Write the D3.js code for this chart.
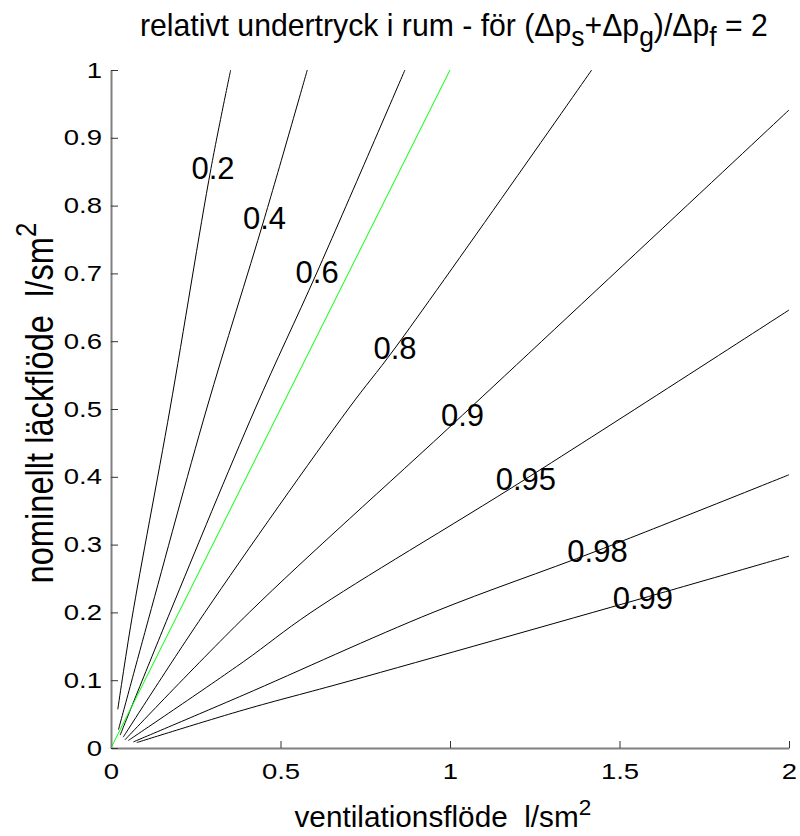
<!DOCTYPE html>
<html>
<head>
<meta charset="utf-8">
<script src="https://cdn.jsdelivr.net/npm/d3@7"></script>
<style>
  body { margin: 0; background: #fff; }
  svg { display: block; }
  text { font-family: "Liberation Sans", Arial, sans-serif; }
</style>
</head>
<body>
<svg id="chart" width="800" height="836"></svg>
<script>
// ---- data ----
const xTicks = [0, 0.5, 1, 1.5, 2];
const yTicks = [0, 0.1, 0.2, 0.3, 0.4, 0.5, 0.6, 0.7, 0.8, 0.9, 1];
const levels = ["0.2", "0.4", "0.6", "0.8", "0.9", "0.95", "0.98", "0.99"];

const line02  = [[0.020, 0.057], [0.061, 0.189], [0.174, 0.50], [0.295, 0.855], [0.353, 1.0]];
const line04  = [[0.022, 0.027], [0.110, 0.189], [0.282, 0.50], [0.453, 0.782], [0.579, 1.0]];
const line06  = [[0.027, 0.019], [0.174, 0.20], [0.425, 0.50], [0.608, 0.702], [0.867, 1.0]];
const line08  = [[0.036, 0.016], [0.277, 0.20], [0.700, 0.50], [0.838, 0.590], [1.418, 1.0]];
const line09  = [[0.041, 0.012], [0.408, 0.20], [1.037, 0.491], [2.0, 0.941]];
const line095 = [[0.051, 0.011], [0.390, 0.127], [0.590, 0.20], [1.224, 0.397], [2.0, 0.646]];
const line098 = [[0.066, 0.009], [0.390, 0.078], [0.950, 0.20], [1.435, 0.291], [2.0, 0.403]];
const line099 = [[0.076, 0.008], [0.390, 0.056], [0.705, 0.099], [1.569, 0.221], [2.0, 0.283]];
const contourLines = [line02, line04, line06, line08, line09, line095, line098, line099];

const greenLine = [[0, 0], [1, 1]];

const labelX = [0.301, 0.453, 0.608, 0.838, 1.037, 1.224, 1.435, 1.569];
const labelY = [0.855, 0.782, 0.702, 0.590, 0.491, 0.397, 0.291, 0.221];

// ---- drawing ----
const svg = d3.select("#chart");
const x = d3.scaleLinear().domain([0, 2]).range([111, 789]);
const y = d3.scaleLinear().domain([0, 1]).range([748, 70]);
const fmt = d => String(+d.toFixed(2));

const line = d3.line().x(d => x(d[0])).y(d => y(d[1])).curve(d3.curveCatmullRom.alpha(0.5));

// contour lines
svg.append("g").selectAll("path").data(contourLines).join("path")
  .attr("d", line)
  .attr("fill", "none")
  .attr("stroke", "#000")
  .attr("stroke-width", 1);

svg.append("path").datum(greenLine)
  .attr("d", line)
  .attr("fill", "none")
  .attr("stroke", "#00ff00")
  .attr("stroke-width", 1);

// contour labels
svg.append("g").selectAll("text").data(levels).join("text")
  .attr("x", (d, i) => x(labelX[i]))
  .attr("y", (d, i) => y(labelY[i]))
  .attr("dy", "0.36em")
  .attr("text-anchor", "middle")
  .attr("font-size", 31)
  .attr("fill", "#000")
  .text(d => d);

// axes
const sx = 1.25;
const gx = svg.append("g").attr("transform", "translate(0,748)")
  .call(d3.axisBottom(x).tickValues(xTicks).tickFormat(fmt).tickSize(-7).tickSizeOuter(0).tickPadding(15));
const gy = svg.append("g").attr("transform", "translate(111,0)")
  .call(d3.axisLeft(y).tickValues(yTicks).tickFormat(fmt).tickSize(-7).tickSizeOuter(0).tickPadding(9));

[gx, gy].forEach(g => {
  g.select(".domain").attr("stroke", "#808080").attr("stroke-width", 2);
  g.selectAll(".tick line").attr("stroke", "#333").attr("stroke-width", 1);
  g.selectAll(".tick text").attr("font-size", 22).attr("fill", "#000")
    .attr("font-family", "Liberation Sans, Arial, sans-serif");
});
gx.selectAll(".tick text").attr("transform", `scale(${sx},1)`);
gy.selectAll(".tick text").attr("x", -9 / sx).attr("transform", `scale(${sx},1)`);

// helper to fit text horizontally (in its own frame) to a target width, centred at cx
function fitWidth(sel, cx, targetW) {
  const bb = sel.node().getBBox();
  const k = targetW / bb.width;
  sel.attr("transform", `translate(${cx},0) scale(${k},1) translate(${-(bb.x + bb.width / 2)},0)`);
}

// title
const title = svg.append("text").attr("x", 0).attr("y", 36).attr("font-size", 32).attr("fill", "#000");
title.append("tspan").text("relativt undertryck i rum - för (Δp");
title.append("tspan").attr("dy", 10).attr("font-size", 28).text("s");
title.append("tspan").attr("dy", -10).text("+Δp");
title.append("tspan").attr("dy", 10).attr("font-size", 28).text("g");
title.append("tspan").attr("dy", -10).text(")/Δp");
title.append("tspan").attr("dy", 10).attr("font-size", 28).text("f");
title.append("tspan").attr("dy", -10).text(" = 2");
fitWidth(title, 454, 628);

// x label
const xl = svg.append("text").attr("x", 0).attr("y", 827).attr("font-size", 29).attr("fill", "#000")
  .attr("xml:space", "preserve");
xl.append("tspan").text("ventilationsflöde  l/sm");
xl.append("tspan").attr("dy", -12).attr("font-size", 22).text("2");
fitWidth(xl, 443, 297);

// y label
const yg = svg.append("g").attr("transform", "translate(53,403) rotate(-90)");
const yl = yg.append("text").attr("x", 0).attr("y", 0).attr("font-size", 38).attr("fill", "#000")
  .attr("xml:space", "preserve");
yl.append("tspan").text("nominellt läckflöde  l/sm");
yl.append("tspan").attr("dy", -17).attr("font-size", 30).text("2");
fitWidth(yl, 0, 361);
</script>
</body>
</html>
